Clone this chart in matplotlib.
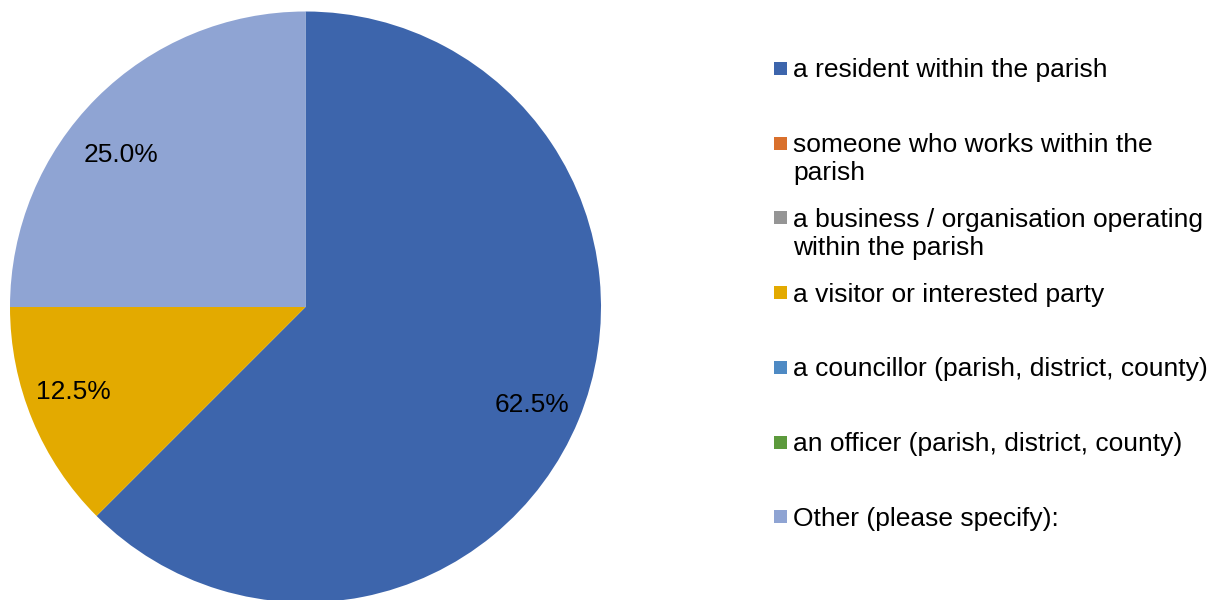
import matplotlib
matplotlib.use("Agg")
import matplotlib.pyplot as plt
from matplotlib.patches import Rectangle

plt.rcParams['font.family'] = ['Liberation Sans', 'DejaVu Sans']

categories = [
    "a resident within the parish",
    "someone who works within the\nparish",
    "a business / organisation operating\nwithin the parish",
    "a visitor or interested party",
    "a councillor (parish, district, county)",
    "an officer (parish, district, county)",
    "Other (please specify):",
]
values = [62.5, 0.0, 0.0, 12.5, 0.0, 0.0, 25.0]
colors = ["#3D65AC", "#D9702C", "#959595", "#E3AA00", "#4E8AC4", "#5C9A3C", "#8FA4D3"]

W, H = 1226, 600
fig = plt.figure(figsize=(W / 100, H / 100), dpi=100)

cx, cy, r = 305.5, 307.0, 295.5
ax = fig.add_axes([(cx - r) / W, (H - cy - r) / H, 2 * r / W, 2 * r / H])

def fmt(p):
    return f"{p:.1f}%" if p > 0.01 else ""

wedges, texts, autotexts = ax.pie(
    values, colors=colors, startangle=90, counterclock=False,
    autopct=fmt, pctdistance=0.83, radius=1.0,
    wedgeprops=dict(linewidth=0), textprops=dict(fontsize=19, color="black"))
ax.set_xlim(-1, 1)
ax.set_ylim(-1, 1)
ax.set_aspect('equal', adjustable='box')
ax.axis('off')

# nudge the percentage labels (Excel best-fit placement)
label_pos = {0: (0.768, -0.332), 3: (-0.785, -0.288), 6: (-0.626, 0.514)}
for i, pos in label_pos.items():
    autotexts[i].set_position(pos)

# legend (manual, Excel-like)
y0, dy = 68.5, 74.7
for i, (lab, col) in enumerate(zip(categories, colors)):
    yc = y0 + i * dy
    fig.patches.append(Rectangle(((774) / W, (H - yc - 6.5) / H), 13 / W, 13 / H,
                                 transform=fig.transFigure, facecolor=col, edgecolor='none'))
    fig.text(793 / W, (H - yc + 10) / H, lab, fontsize=19, ha='left', va='top',
             linespacing=1.22, color="black")

fig.savefig("out.png", dpi=100, facecolor="white")
